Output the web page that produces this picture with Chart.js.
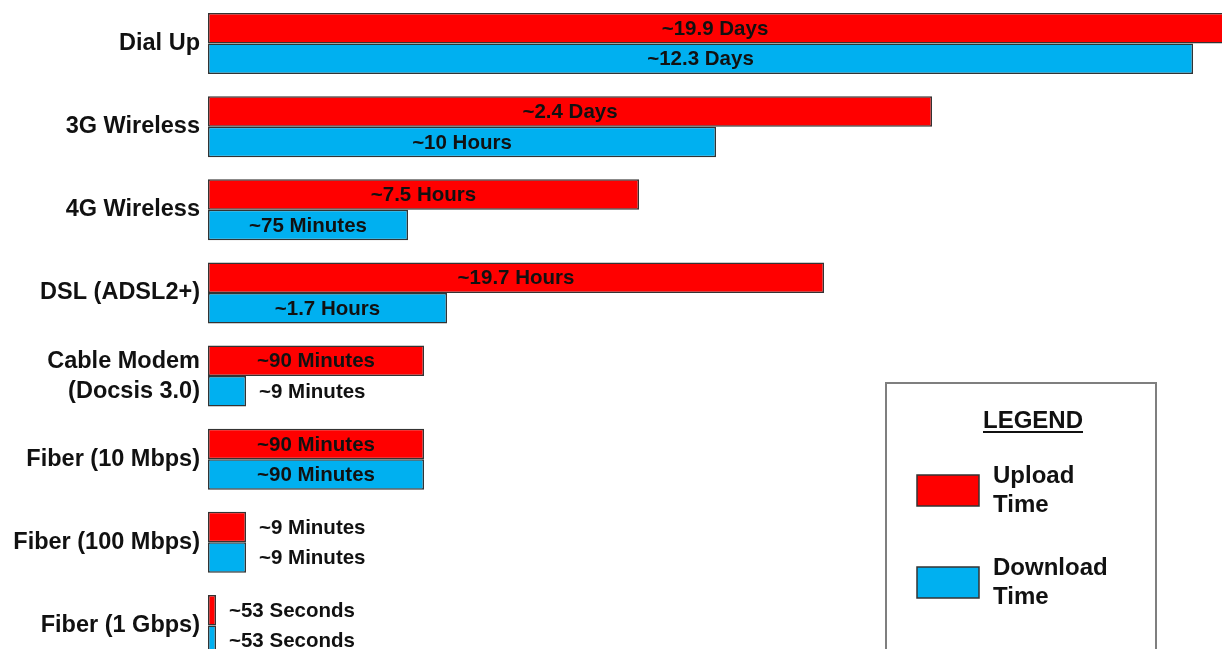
<!DOCTYPE html>
<html>
<head>
<meta charset="utf-8">
<script src="https://cdn.jsdelivr.net/npm/chart.js@4/dist/chart.umd.min.js"></script>
<style>
  html, body { margin: 0; padding: 0; background: #fff; overflow: hidden; }
  #wrap { position: relative; width: 1222px; height: 667px; }
</style>
</head>
<body>
<div id="wrap"><canvas id="speeds"></canvas></div>
<script>
// connection types, top to bottom
const categories = [
  'Dial Up', '3G Wireless', '4G Wireless', 'DSL (ADSL2+)',
  ['Cable Modem', '(Docsis 3.0)'], 'Fiber (10 Mbps)', 'Fiber (100 Mbps)', 'Fiber (1 Gbps)'
];
// relative bar lengths as drawn in the picture (not to scale with time)
const uploadLength = [1018, 724, 431, 616, 216, 216, 38, 8];
const downloadLength = [985, 508, 200, 239, 38, 216, 38, 8];
const uploadText = ['~19.9 Days', '~2.4 Days', '~7.5 Hours', '~19.7 Hours', '~90 Minutes', '~90 Minutes', '~9 Minutes', '~53 Seconds'];
const downloadText = ['~12.3 Days', '~10 Hours', '~75 Minutes', '~1.7 Hours', '~9 Minutes', '~90 Minutes', '~9 Minutes', '~53 Seconds'];

const FONT = '"Liberation Sans", Arial, sans-serif';
const RED = '#ff0000';
const BLUE = '#00b0f0';

// write the time next to / inside each bar
const barText = {
  id: 'barText',
  afterDatasetsDraw(chart) {
    const ctx = chart.ctx;
    const texts = [uploadText, downloadText];
    ctx.save();
    ctx.font = 'bold 20.5px ' + FONT;
    ctx.fillStyle = '#111';
    ctx.textBaseline = 'middle';
    chart.data.datasets.forEach(function (ds, i) {
      chart.getDatasetMeta(i).data.forEach(function (bar, j) {
        const txt = texts[i][j];
        const w = ctx.measureText(txt).width;
        const right = Math.min(bar.x, chart.chartArea.right);
        if (right - bar.base > w + 20) {
          ctx.textAlign = 'center';
          ctx.fillText(txt, (bar.base + right) / 2, bar.y + 1);
        } else {
          ctx.textAlign = 'left';
          ctx.fillText(txt, right + 13, bar.y + 1);
        }
      });
    });
    ctx.restore();
  }
};

// boxed legend in the lower right
const boxLegend = {
  id: 'boxLegend',
  afterDraw(chart) {
    const ctx = chart.ctx;
    ctx.save();
    ctx.fillStyle = '#fff';
    ctx.fillRect(886, 383, 270, 290);
    ctx.strokeStyle = '#7f7f7f';
    ctx.lineWidth = 2;
    ctx.strokeRect(886, 383, 270, 290);

    ctx.fillStyle = '#111';
    ctx.font = 'bold 24px ' + FONT;
    ctx.textAlign = 'center';
    ctx.textBaseline = 'alphabetic';
    ctx.fillText('LEGEND', 1033, 428);
    const lw = ctx.measureText('LEGEND').width;
    ctx.fillRect(1033 - lw / 2, 431, lw, 2);

    const items = [
      { color: RED, lines: ['Upload', 'Time'], y: 475 },
      { color: BLUE, lines: ['Download', 'Time'], y: 567 }
    ];
    items.forEach(function (it) {
      ctx.fillStyle = it.color;
      ctx.fillRect(917, it.y, 62, 31);
      ctx.strokeStyle = '#333';
      ctx.lineWidth = 1.5;
      ctx.strokeRect(917, it.y, 62, 31);
      ctx.fillStyle = '#111';
      ctx.textAlign = 'left';
      ctx.fillText(it.lines[0], 993, it.y + 8);
      ctx.fillText(it.lines[1], 993, it.y + 37);
    });
    ctx.restore();
  }
};

const ctx = document.getElementById('speeds').getContext('2d');
const chart = new Chart(ctx, {
  type: 'bar',
  data: {
    labels: categories,
    datasets: [{
      label: 'Upload Time',
      data: uploadLength,
      backgroundColor: RED,
      borderColor: '#333',
      borderWidth: 1.5,
      borderSkipped: false
    }, {
      label: 'Download Time',
      data: downloadLength,
      backgroundColor: BLUE,
      borderColor: '#333',
      borderWidth: 1.5,
      borderSkipped: false
    }]
  },
  options: {
    indexAxis: 'y',
    responsive: true,
    maintainAspectRatio: false,
    animation: false,
    layout: { padding: { top: 2, right: 0, bottom: 0, left: 0 } },
    datasets: {
      bar: { categoryPercentage: 0.735, barPercentage: 1.0 }
    },
    scales: {
      x: {
        display: false,
        min: 0,
        max: 1014
      },
      y: {
        grid: { display: false, drawTicks: false },
        border: { display: false },
        afterFit: function (scale) {
          scale.width = 208;
          scale.paddingTop = 0;
          scale.paddingBottom = 0;
        },
        ticks: {
          color: '#111',
          padding: 8,
          font: { family: FONT, size: 23.5, weight: 'bold', lineHeight: 1.28 }
        }
      }
    },
    plugins: {
      legend: { display: false },
      tooltip: { enabled: false }
    }
  },
  plugins: [barText, boxLegend]
});
</script>
</body>
</html>
